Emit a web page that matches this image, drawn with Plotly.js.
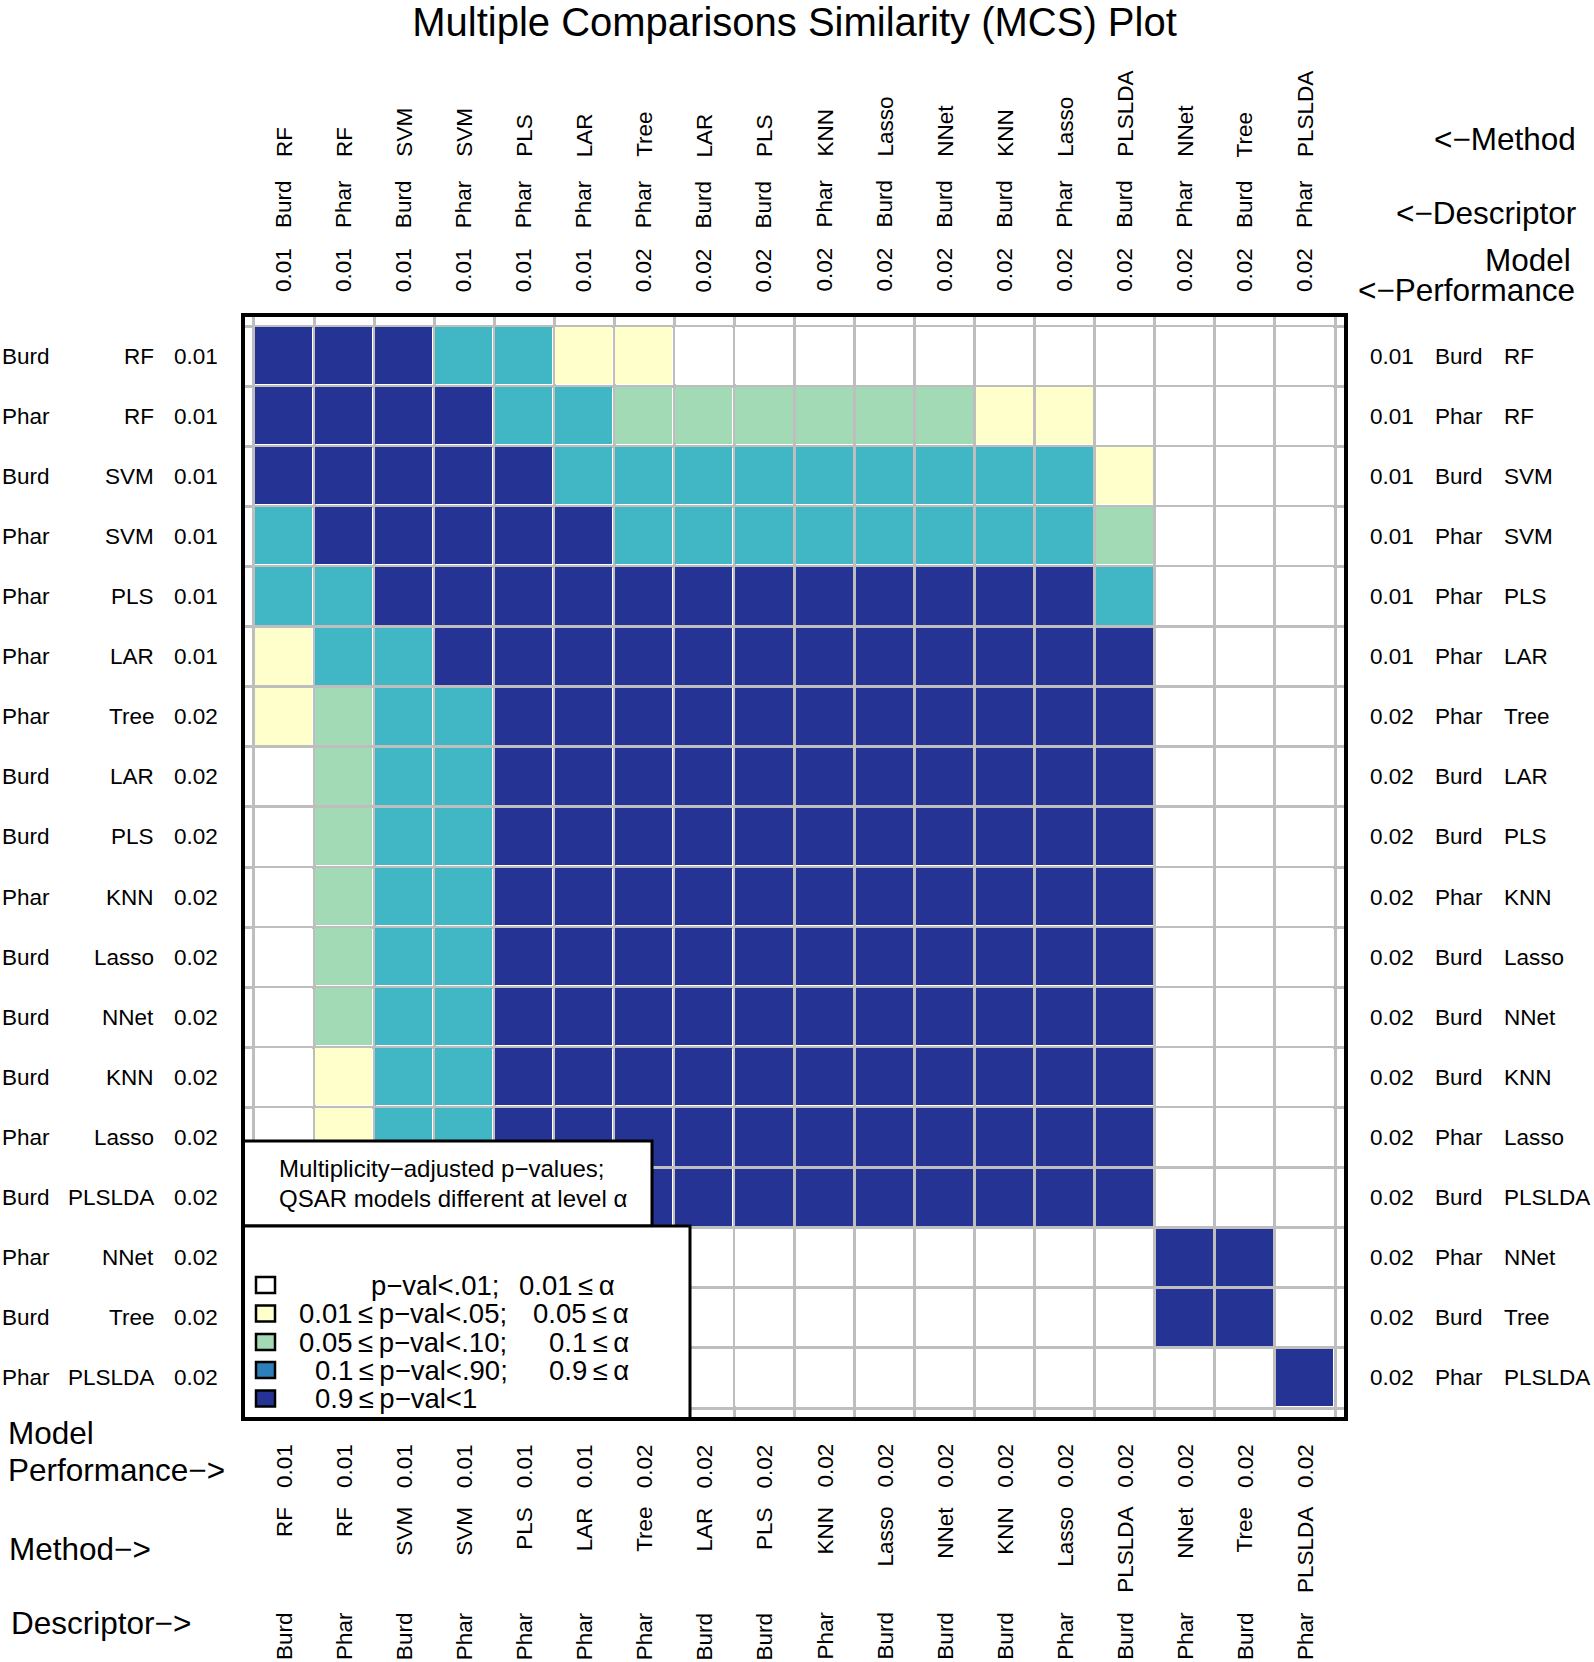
<!DOCTYPE html>
<html>
<head>
<meta charset="utf-8">
<script src="https://cdn.plot.ly/plotly-3.0.1.min.js"></script>
<style>
  body { margin: 0; background: #fff; }
  #mcs { width: 1594px; height: 1662px; }
</style>
</head>
<body>
<div id="mcs"></div>
<script>
// models, in the order used for rows (top to bottom) and columns (left to right)
var descriptors = ['Burd', 'Phar', 'Burd', 'Phar', 'Phar', 'Phar', 'Phar', 'Burd', 'Burd',
                   'Phar', 'Burd', 'Burd', 'Burd', 'Phar', 'Burd', 'Phar', 'Burd', 'Phar'];
var methods = ['RF', 'RF', 'SVM', 'SVM', 'PLS', 'LAR', 'Tree', 'LAR', 'PLS',
               'KNN', 'Lasso', 'NNet', 'KNN', 'Lasso', 'PLSLDA', 'NNet', 'Tree', 'PLSLDA'];
var performance = ['0.01', '0.01', '0.01', '0.01', '0.01', '0.01', '0.02', '0.02', '0.02',
                   '0.02', '0.02', '0.02', '0.02', '0.02', '0.02', '0.02', '0.02', '0.02'];

// p-value class of each pair: 0 p<.01, 1 .01-.05, 2 .05-.10, 3 .10-.90, 4 >=.90
var pclass = [
  [4,4,4,3,3,1,1,0,0,0,0,0,0,0,0,0,0,0],
  [4,4,4,4,3,3,2,2,2,2,2,2,1,1,0,0,0,0],
  [4,4,4,4,4,3,3,3,3,3,3,3,3,3,1,0,0,0],
  [3,4,4,4,4,4,3,3,3,3,3,3,3,3,2,0,0,0],
  [3,3,4,4,4,4,4,4,4,4,4,4,4,4,3,0,0,0],
  [1,3,3,4,4,4,4,4,4,4,4,4,4,4,4,0,0,0],
  [1,2,3,3,4,4,4,4,4,4,4,4,4,4,4,0,0,0],
  [0,2,3,3,4,4,4,4,4,4,4,4,4,4,4,0,0,0],
  [0,2,3,3,4,4,4,4,4,4,4,4,4,4,4,0,0,0],
  [0,2,3,3,4,4,4,4,4,4,4,4,4,4,4,0,0,0],
  [0,2,3,3,4,4,4,4,4,4,4,4,4,4,4,0,0,0],
  [0,2,3,3,4,4,4,4,4,4,4,4,4,4,4,0,0,0],
  [0,1,3,3,4,4,4,4,4,4,4,4,4,4,4,0,0,0],
  [0,1,3,3,4,4,4,4,4,4,4,4,4,4,4,0,0,0],
  [0,0,1,2,3,4,4,4,4,4,4,4,4,4,4,0,0,0],
  [0,0,0,0,0,0,0,0,0,0,0,0,0,0,0,4,4,0],
  [0,0,0,0,0,0,0,0,0,0,0,0,0,0,0,4,4,0],
  [0,0,0,0,0,0,0,0,0,0,0,0,0,0,0,0,0,4]
];

var legendLeft = ['p\u2212val<.01;', '0.01\u2009\u2264\u2009p\u2212val<.05;', '0.05\u2009\u2264\u2009p\u2212val<.10;',
                  '0.1\u2009\u2264\u2009p\u2212val<.90;', '0.9\u2009\u2264\u2009p\u2212val<1'];
var legendRight = ['0.01\u2009\u2264\u2009\u03b1', '0.05\u2009\u2264\u2009\u03b1', '0.1\u2009\u2264\u2009\u03b1', '0.9\u2009\u2264\u2009\u03b1', ''];

// colours
var cellColors = ['#FFFFFF', '#FFFFCC', '#A1DAB4', '#41B6C4', '#253494'];
var keyColors = ['#FFFFFF', '#FFFFCC', '#A1DAB4', '#2C7FB8', '#253494'];

var FONT = 'Liberation Sans, Arial, Helvetica, sans-serif';
var W = 1594, H = 1662;
var L = 243, R = 1346, T = 315, B = 1419;   // plot box in pixels
function px(x) { return (x - L) / (R - L); }
function py(y) { return (B - y) / (B - T); }

var n = methods.length;
var idx = [];
var bounds = [];
for (var i = 0; i < n; i++) idx.push(i + 1);
for (var i = 0; i <= n; i++) bounds.push(i + 0.5);
var pad = 11 / 60.1;

// discrete colour scale
var cs = [];
for (var k = 0; k < cellColors.length; k++) {
  cs.push([k / cellColors.length, cellColors[k]]);
  cs.push([(k + 1) / cellColors.length, cellColors[k]]);
}

var data = [{
  type: 'heatmap',
  x: idx,
  y: idx,
  z: pclass,
  zmin: -0.5,
  zmax: cellColors.length - 0.5,
  colorscale: cs,
  showscale: false,
  xgap: 3,
  ygap: 3,
  hoverinfo: 'skip'
}];

var annotations = [];
var lab = { family: FONT, size: 22.5, color: 'black' };

for (var i = 0; i < n; i++) {
  // top labels
  annotations.push({ x: i + 1, xref: 'x', y: py(294), yref: 'paper', text: performance[i],
    textangle: -90, xanchor: 'center', yanchor: 'bottom', showarrow: false, font: lab });
  annotations.push({ x: i + 1, xref: 'x', y: py(230), yref: 'paper', text: descriptors[i],
    textangle: -90, xanchor: 'center', yanchor: 'bottom', showarrow: false, font: lab });
  annotations.push({ x: i + 1, xref: 'x', y: py(159), yref: 'paper', text: methods[i],
    textangle: -90, xanchor: 'center', yanchor: 'bottom', showarrow: false, font: lab });
  // bottom labels
  annotations.push({ x: i + 1, xref: 'x', y: py(1442), yref: 'paper', text: performance[i],
    textangle: -90, xanchor: 'center', yanchor: 'top', showarrow: false, font: lab });
  annotations.push({ x: i + 1, xref: 'x', y: py(1505), yref: 'paper', text: methods[i],
    textangle: -90, xanchor: 'center', yanchor: 'top', showarrow: false, font: lab });
  annotations.push({ x: i + 1, xref: 'x', y: py(1610), yref: 'paper', text: descriptors[i],
    textangle: -90, xanchor: 'center', yanchor: 'top', showarrow: false, font: lab });
  // left labels
  annotations.push({ x: px(0), xref: 'paper', y: i + 1, yref: 'y', text: descriptors[i],
    xanchor: 'left', yanchor: 'middle', showarrow: false, font: lab });
  annotations.push({ x: px(156), xref: 'paper', y: i + 1, yref: 'y', text: methods[i],
    xanchor: 'right', yanchor: 'middle', showarrow: false, font: lab });
  annotations.push({ x: px(172), xref: 'paper', y: i + 1, yref: 'y', text: performance[i],
    xanchor: 'left', yanchor: 'middle', showarrow: false, font: lab });
  // right labels
  annotations.push({ x: px(1368), xref: 'paper', y: i + 1, yref: 'y', text: performance[i],
    xanchor: 'left', yanchor: 'middle', showarrow: false, font: lab });
  annotations.push({ x: px(1433), xref: 'paper', y: i + 1, yref: 'y', text: descriptors[i],
    xanchor: 'left', yanchor: 'middle', showarrow: false, font: lab });
  annotations.push({ x: px(1502), xref: 'paper', y: i + 1, yref: 'y', text: methods[i],
    xanchor: 'left', yanchor: 'middle', showarrow: false, font: lab });
}

var big = { family: FONT, size: 31.5, color: 'black' };
function note(text, x, y, xanchor, font) {
  annotations.push({ x: px(x), xref: 'paper', y: py(y), yref: 'paper', text: text,
    xanchor: xanchor, yanchor: 'middle', showarrow: false, font: font });
}
note('<\u2212Method', 1578, 139, 'right', big);
note('<\u2212Descriptor', 1578, 213, 'right', big);
note('Model', 1573, 260, 'right', big);
note('<\u2212Performance', 1577, 290, 'right', big);
note('Model', 6, 1433, 'left', big);
note('Performance\u2212>', 6, 1470, 'left', big);
note('Method\u2212>', 7, 1549, 'left', big);
note('Descriptor\u2212>', 9, 1623, 'left', big);

// key
var keyTitle = { family: FONT, size: 24, color: 'black' };
note('Multiplicity\u2212adjusted p\u2212values;', 277, 1168, 'left', keyTitle);
note('QSAR models different at level \u03b1', 277, 1198, 'left', keyTitle);

var shapes = [];
shapes.push({ type: 'rect', xref: 'paper', yref: 'paper', x0: px(243), x1: px(652), y0: py(1226), y1: py(1141),
  fillcolor: 'white', line: { color: 'black', width: 3 } });
shapes.push({ type: 'rect', xref: 'paper', yref: 'paper', x0: px(243), x1: px(690), y0: py(1419), y1: py(1226),
  fillcolor: 'white', line: { color: 'black', width: 3 } });

var keyFont = { family: FONT, size: 27.5, color: 'black' };
var keyRowY = [1285, 1313.5, 1342, 1370, 1398.5];
var keyLeftX = [369, 297, 297, 313, 313];
var keyRightX = [617, 631, 631, 631, 631];
for (var k = 0; k < keyColors.length; k++) {
  shapes.push({ type: 'rect', xref: 'paper', yref: 'paper', x0: px(256), x1: px(275),
    y0: py(keyRowY[k] + 8), y1: py(keyRowY[k] - 8),
    fillcolor: keyColors[k], line: { color: 'black', width: 2.5 } });
  note(legendLeft[k], keyLeftX[k], keyRowY[k], 'left', keyFont);
  if (legendRight[k]) note(legendRight[k], keyRightX[k], keyRowY[k], 'right', keyFont);
}

// plot box
shapes.push({ type: 'rect', xref: 'paper', yref: 'paper', x0: 0, x1: 1, y0: 0, y1: 1,
  line: { color: 'black', width: 4 } });

var layout = {
  width: W,
  height: H,
  margin: { l: L, r: W - R, t: T, b: H - B, pad: 0 },
  paper_bgcolor: 'white',
  plot_bgcolor: 'white',
  showlegend: false,
  title: {
    text: 'Multiple Comparisons Similarity (MCS) Plot',
    x: 0.5, xref: 'paper', xanchor: 'center',
    y: 1 - 22 / H, yanchor: 'middle',
    font: { family: FONT, size: 40, color: 'black' }
  },
  xaxis: {
    range: [0.5 - pad, n + 0.5 + pad],
    tickvals: bounds, showticklabels: false, ticks: '',
    showgrid: true, gridcolor: '#BEBEBE', gridwidth: 3,
    zeroline: false, showline: false, fixedrange: true
  },
  yaxis: {
    range: [n + 0.5 + pad, 0.5 - pad],
    tickvals: bounds, showticklabels: false, ticks: '',
    showgrid: true, gridcolor: '#BEBEBE', gridwidth: 3,
    zeroline: false, showline: false, fixedrange: true
  },
  shapes: shapes,
  annotations: annotations
};

Plotly.newPlot('mcs', data, layout, { displayModeBar: false, staticPlot: true });
</script>
</body>
</html>
